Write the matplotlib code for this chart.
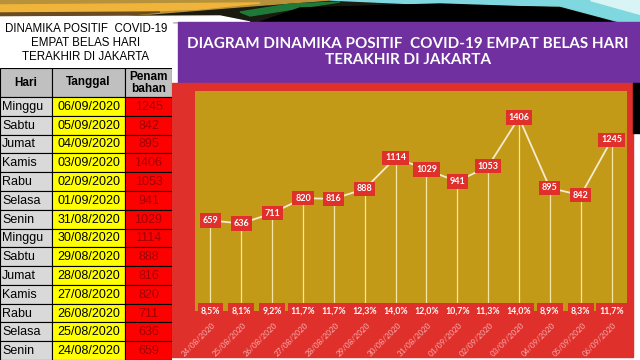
import matplotlib
matplotlib.use("Agg")
import matplotlib.pyplot as plt
from matplotlib.patches import Rectangle, Polygon
import numpy as np

# ---------------- data ----------------
days = ["Minggu", "Sabtu", "Jumat", "Kamis", "Rabu", "Selasa", "Senin",
        "Minggu", "Sabtu", "Jumat", "Kamis", "Rabu", "Selasa", "Senin"]
table_dates = ["06/09/2020", "05/09/2020", "04/09/2020", "03/09/2020", "02/09/2020",
               "01/09/2020", "31/08/2020", "30/08/2020", "29/08/2020", "28/08/2020",
               "27/08/2020", "26/08/2020", "25/08/2020", "24/08/2020"]
table_values = [1245, 842, 895, 1406, 1053, 941, 1029, 1114, 888, 816, 820, 711, 636, 659]

chart_dates = ["24/08/2020", "25/08/2020", "26/08/2020", "27/08/2020", "28/08/2020",
               "29/08/2020", "30/08/2020", "31/08/2020", "01/09/2020", "02/09/2020",
               "03/09/2020", "04/09/2020", "05/09/2020", "06/09/2020"]
chart_values = [659, 636, 711, 820, 816, 888, 1114, 1029, 941, 1053, 1406, 895, 842, 1245]
chart_pcts = ["8,5%", "8,1%", "9,2%", "11,7%", "11,7%", "12,3%", "14,0%",
              "12,0%", "10,7%", "11,3%", "14,0%", "8,9%", "8,3%", "11,7%"]

table_title = "DINAMIKA POSITIF  COVID-19\nEMPAT BELAS HARI\nTERAKHIR DI JAKARTA"
table_headers = ["Hari", "Tanggal", "Penam\nbahan"]
chart_title = "DIAGRAM DINAMIKA POSITIF  COVID-19 EMPAT BELAS HARI\nTERAKHIR DI JAKARTA"

# ---------------- figure ----------------
W, H = 640, 360
fig = plt.figure(figsize=(6.4, 3.6), dpi=100, facecolor="white")


def fbox(x0, y0, x1, y1):
    """pixel box (top-left origin) -> figure fraction rect"""
    return [x0 / W, 1 - y1 / H, (x1 - x0) / W, (y1 - y0) / H]


# background overlay axes in pixel coordinates
bg = fig.add_axes([0, 0, 1, 1])
bg.set_xlim(0, W)
bg.set_ylim(H, 0)
bg.axis("off")

# top decorative swirl
bg.add_patch(Rectangle((0, 0), 640, 22, color="#1a1a10", zorder=0))
bg.add_patch(Polygon([(0, 0), (330, 0), (250, 6), (150, 14), (0, 17)], closed=True,
                     color="#b8923a", zorder=1))
bg.add_patch(Polygon([(0, 5), (260, 3), (200, 9), (100, 13), (0, 13)], closed=True,
                     color="#f0b43a", zorder=2))
bg.add_patch(Polygon([(0, 13), (160, 12), (120, 16), (0, 18)], closed=True,
                     color="#6a4a20", zorder=2))
bg.add_patch(Polygon([(0, 17), (220, 16), (250, 22), (0, 22)], closed=True,
                     color="white", zorder=2))
bg.add_patch(Polygon([(240, 12), (290, 4), (340, 2), (300, 8), (250, 16)], closed=True,
                     color="#1f7a3a", zorder=2))
bg.add_patch(Polygon([(330, 0), (640, 0), (640, 22), (620, 22), (560, 6), (420, 4)], closed=True,
                     color="#7fd8e0", zorder=2))
bg.add_patch(Polygon([(300, 8), (440, 4), (560, 8), (612, 22), (260, 22)], closed=True,
                     color="black", zorder=3))
bg.add_patch(Polygon([(590, 0), (640, 0), (640, 14)], closed=True, color="#d8f4f4", zorder=3))

# table title box
bg.add_patch(Rectangle((0, 18), 172, 50, color="white", zorder=4))
bg.text(86, 43, table_title, ha="center", va="center", fontsize=8.3,
        family="Liberation Sans", color="black", linespacing=1.2, zorder=5)

# purple header
bg.add_patch(Rectangle((178, 22), 462, 61, color="#7030a0", zorder=4))
bg.text(408, 52, chart_title, ha="center", va="center", fontsize=11,
        family="Lato", weight="bold", color="white", linespacing=1.2, zorder=5)

# red panel and right black strip
bg.add_patch(Rectangle((172, 83), 461, 274, color="#e0302c", zorder=4))
bg.add_patch(Rectangle((633, 83), 7, 50, color="black", zorder=4))

# ---------------- table ----------------
tab = fig.add_axes(fbox(0, 68, 172, 360))
tab.set_xlim(0, 172)
tab.set_ylim(360, 68)
tab.axis("off")
col_edges = [0, 52, 125, 172]
head_top, head_bot = 68, 97
row_h = (360 - head_bot) / len(days)

for c in range(3):
    x0, x1 = col_edges[c], col_edges[c + 1]
    tab.add_patch(Rectangle((x0, head_top), x1 - x0, head_bot - head_top,
                            facecolor="#c0c0c0", edgecolor="black", lw=0.8))
    tab.text((x0 + x1) / 2, (head_top + head_bot) / 2, table_headers[c],
             ha="center", va="center", fontsize=8.5, weight="bold",
             family="Liberation Sans", linespacing=1.0)

cell_fc = ["#d9d9d9", "#ffff00", "#ff0000"]
for r, (d, t, v) in enumerate(zip(days, table_dates, table_values)):
    y0 = head_bot + r * row_h
    for c in range(3):
        x0, x1 = col_edges[c], col_edges[c + 1]
        tab.add_patch(Rectangle((x0, y0), x1 - x0, row_h, facecolor=cell_fc[c],
                                edgecolor="black", lw=0.8))
    yc = y0 + row_h / 2 + 0.5
    tab.text(2, yc, d, ha="left", va="center", fontsize=9, family="Liberation Sans")
    tab.text((col_edges[1] + col_edges[2]) / 2, yc, t, ha="center", va="center",
             fontsize=9, family="Liberation Sans")
    tab.text((col_edges[2] + col_edges[3]) / 2, yc, str(v), ha="center", va="center",
             fontsize=9, family="Liberation Sans", color="#a00000")

# ---------------- chart ----------------
ax = fig.add_axes(fbox(195, 91, 627, 311))
ax.set_facecolor("#c29a17")
x = np.arange(len(chart_values))
ax.set_xlim(-0.5, len(chart_values) - 0.5)
ax.set_ylim(0, 1600)
for s in ax.spines.values():
    s.set_visible(False)
ax.set_xticks([])
ax.set_yticks([])

ax.vlines(x, 0, chart_values, color="#f6e6a6", lw=0.9, zorder=2)
ax.plot(x, chart_values, color="#f8ead0", lw=1.3, zorder=3)

for xi, v in zip(x, chart_values):
    ax.text(xi, v, str(v), ha="center", va="center", fontsize=6.5, weight="bold",
            color="white", family="Lato", zorder=5,
            bbox=dict(boxstyle="square,pad=0.3", fc="#e0302c", ec="none"))

for xi, p in zip(x, chart_pcts):
    ax.text(xi, 0, p, ha="center", va="center", fontsize=6.3, weight="bold",
            color="white", family="Lato", zorder=5, clip_on=False,
            bbox=dict(boxstyle="square,pad=0.35", fc="#e0302c", ec="none"))

for xi, d in zip(x, chart_dates):
    ax.annotate(d, xy=(xi, 0), xycoords=("data", "axes fraction"),
                xytext=(3, -9), textcoords="offset points", rotation=45,
                rotation_mode="anchor", ha="right", va="center", fontsize=5.8,
                color="#f7b0b0", family="Lato", annotation_clip=False)

fig.savefig("out.png", dpi=100, facecolor="white")
